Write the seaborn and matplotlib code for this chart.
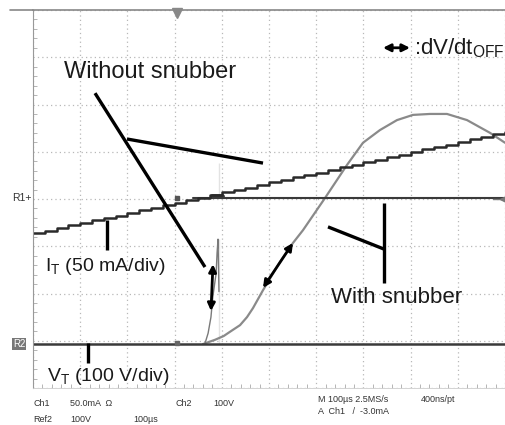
import numpy as np
import pandas as pd
import matplotlib
matplotlib.use("Agg")
import matplotlib.pyplot as plt
from matplotlib.lines import Line2D
import seaborn as sns

# ---------------- data (x in microseconds, y in screen divisions) ----------------
# I_T ramp (with snubber), staircase, one value every 25 us
ramp_t = list(range(0, 1001, 25))
ramp_v = [3.28, 3.33, 3.39, 3.44, 3.49, 3.55, 3.60, 3.65, 3.71, 3.76, 3.82,
          3.87, 3.92, 3.98, 4.03, 4.08, 4.14, 4.19, 4.24, 4.30, 4.35, 4.40,
          4.46, 4.51, 4.56, 4.62, 4.67, 4.72, 4.78, 4.83, 4.89, 4.94, 4.99,
          5.05, 5.10, 5.15, 5.21, 5.26, 5.31, 5.37, 5.42]

# I_T without snubber (flat after turn-off) with spike
flat_t = [340, 1000]
flat_v = [4.02, 4.02]
ispike_t = [394, 394]
ispike_v = [4.02, 4.76]
blob_t = [379, 400]
blob_v = [4.06, 4.06]

# V_T baseline (R2)
vbase_t = [0, 1000]
vbase_v = [0.93, 0.93]

# V_T without snubber
vns_t = [360, 364, 371, 377, 381, 388, 390, 392, 394, 394]
vns_v = [0.93, 0.93, 1.16, 1.50, 1.93, 2.43, 2.86, 3.15, 3.15, 0.93]

# V_T with snubber
vs_t = [360.2, 385.6, 404.0, 417.4, 438.6, 453.4, 466.0, 487.3, 523.3, 550.8,
        572.0, 618.6, 665.2, 699.1, 735.2, 771.2, 805.1, 841.1, 877.1, 919.5,
        968.2, 1000]
vs_v = [0.93, 1.02, 1.10, 1.19, 1.33, 1.50, 1.69, 2.07, 2.67, 3.07,
        3.34, 4.02, 4.72, 5.19, 5.46, 5.67, 5.78, 5.80, 5.80, 5.67,
        5.40, 5.19]

FONT = ["Liberation Sans", "DejaVu Sans"]

sns.set_style("white")
plt.rcParams["font.family"] = FONT
plt.rcParams["mathtext.fontset"] = "custom"
plt.rcParams["mathtext.rm"] = "Liberation Sans"

W, H = 505, 425
fig = plt.figure(figsize=(W / 100, H / 100), dpi=100)
ax = fig.add_axes([33 / W, (H - 388) / H, 472 / W, 378 / H])
ax.set_xlim(0, 1000)
ax.set_ylim(0, 8)

# grid
ax.set_xticks(range(0, 1001, 100))
ax.set_yticks(range(0, 9))
ax.set_xticks(np.arange(0, 1001, 20), minor=True)
ax.set_yticks(np.arange(0, 8.01, 0.2), minor=True)
ax.grid(True, which="major", color="#b8b8b8", linestyle=(0, (1, 2.5)), linewidth=0.9)
ax.tick_params(which="both", labelbottom=False, labelleft=False, direction="in",
               color="#aaaaaa", bottom=True, left=True)
ax.tick_params(which="major", length=0)
ax.tick_params(which="minor", length=3, width=0.6)
ax.spines["right"].set_visible(False)
ax.spines["top"].set_color("#888888")
ax.spines["top"].set_linewidth(1.2)
ax.spines["left"].set_color("#999999")
ax.spines["left"].set_linewidth(0.8)
ax.spines["bottom"].set_color("#cccccc")
ax.spines["bottom"].set_linewidth(0.6)
fig.add_artist(Line2D([10 / W, 33 / W], [1 - 10 / H, 1 - 10 / H], color="#888888", lw=1.2))

# traces
sns.lineplot(x=vs_t, y=vs_v, ax=ax, color="#8a8a8a", lw=1.6, sort=False)
sns.lineplot(x=vns_t, y=vns_v, ax=ax, color="#7a7a7a", lw=1.0, sort=False)
sns.lineplot(x=vbase_t, y=vbase_v, ax=ax, color="#3a3a3a", lw=1.8)
sns.lineplot(x=flat_t, y=flat_v, ax=ax, color="#3a3a3a", lw=1.5)
sns.lineplot(x=ispike_t, y=ispike_v, ax=ax, color="#777777", lw=1.0, sort=False)
sns.lineplot(x=blob_t, y=blob_v, ax=ax, color="#3a3a3a", lw=3.5)
sns.lineplot(x=ramp_t, y=ramp_v, ax=ax, color="#2a2a2a", lw=1.8, drawstyle="steps-post")

# small trigger / level markers
ax.plot([305], [4.02], marker="s", ms=3, color="#555555", clip_on=False)
ax.plot([305], [0.95], marker="s", ms=3, color="#666666", clip_on=False)
ax.plot([305], [7.93], marker="v", ms=7, color="#888888", clip_on=False)
ax.plot([995], [3.99], marker="<", ms=4, color="#777777", clip_on=False)
ax.plot([975, 995], [3.99, 3.99], color="#777777", lw=1.0, clip_on=False)

# annotation pointer lines
def seg(x, y, lw=2.4):
    ax.plot(x, y, color="black", lw=lw, solid_capstyle="butt", clip_on=False)

seg([131.4, 364.4], [6.24, 2.56])
seg([199.1, 487.3], [5.27, 4.76])
seg([156.8, 156.8], [3.56, 2.92])
seg([116.5, 116.5], [0.95, 0.53])
seg([743.6, 743.6], [3.92, 2.22])
seg([625.0, 743.6], [3.41, 2.94])

arrow_kw = dict(arrowstyle="<|-|>", color="black", lw=2.0, mutation_scale=11,
                shrinkA=0, shrinkB=0)
ax.annotate("", xy=(381.3, 2.62), xytext=(377.1, 1.63), arrowprops=arrow_kw)
ax.annotate("", xy=(550.8, 3.07), xytext=(487.3, 2.12), arrowprops=arrow_kw)
ax.annotate("", xy=(798.7, 7.20), xytext=(741.5, 7.20), arrowprops=arrow_kw)

# labels
ax.text(248, 6.69, "Without snubber", fontsize=17, ha="center", va="center", color="#1a1a1a")
ax.text(770, 1.91, "With snubber", fontsize=16, ha="center", va="center", color="#1a1a1a")
ax.text(25, 2.58, r"I$_\mathregular{T}$ (50 mA/div)", fontsize=14, ha="left", va="center", color="#1a1a1a")
ax.text(29, 0.25, r"V$_\mathregular{T}$ (100 V/div)", fontsize=14, ha="left", va="center", color="#1a1a1a")
ax.text(808, 7.2, r":dV/dt$_\mathregular{OFF}$", fontsize=16, ha="left", va="center",
        color="#1a1a1a", clip_on=False)

# scope readouts
def ft(x, y, s, **kw):
    fig.text(x / W, 1 - y / H, s, fontsize=6.5, color="#333333", va="center", ha="left", **kw)

ft(33, 403, "Ch1")
ft(70, 403, "50.0mA  \u03a9")
ft(175, 403, "Ch2")
ft(213, 403, "100V")
ft(318, 400, "M 100\u00b5s 2.5MS/s")
ft(421, 400, "400ns/pt")
ft(318, 411, "A  Ch1   /  -3.0mA")
ft(33, 419, "Ref2")
ft(70, 419, "100V")
ft(133, 419, "100\u00b5s")
fig.text(12 / W, 1 - 198 / H, "R1+", fontsize=7.5, color="#333333", va="center", ha="left")
fig.text(13 / W, 1 - 344 / H, "R2", fontsize=7, color="white", va="center", ha="left",
         bbox=dict(boxstyle="square,pad=0.1", fc="#777777", ec="none"))

fig.savefig("out.png", dpi=100)
